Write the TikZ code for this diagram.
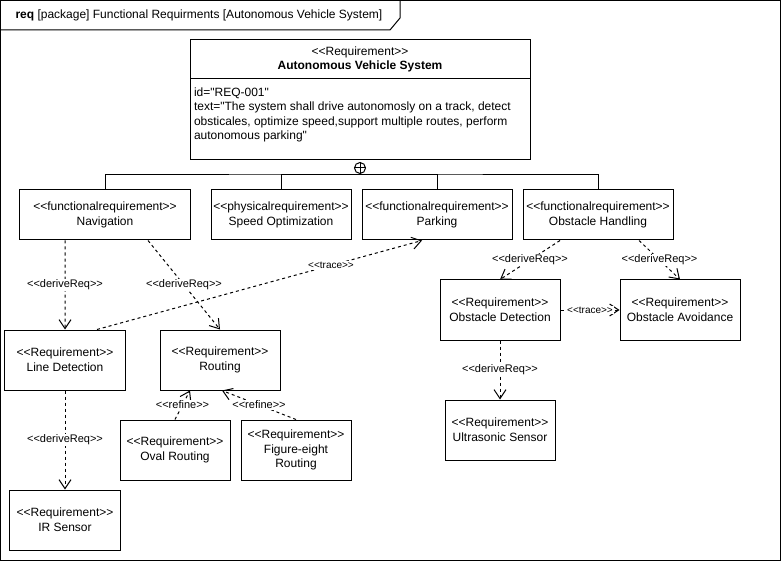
\documentclass[tikz,border=0pt]{standalone}
\usepackage{fontspec}
\setmainfont{Liberation Sans}[Ligatures=TeXOff]
\usetikzlibrary{positioning, arrows.meta}

\begin{document}
\begin{tikzpicture}[x=1bp, y=-1bp, node distance=10bp, line width=1bp, font=\fontsize{12bp}{14.6bp}\selectfont]
	\tikzstyle{req}=[draw, align=center, inner sep=0pt, minimum width=120bp, minimum height=60bp]
	\tikzstyle{freq}=[req, minimum height=50bp]
	\tikzstyle{every edge}=[draw, ->, >={Straight Barb[length=9bp,width=12bp]}, dash pattern=on 3bp off 3bp]
	\tikzstyle{rel}=[fill=white, inner sep=1bp, font=\fontsize{11bp}{13bp}\selectfont]
	\tikzstyle{trc}=[rel, font=\fontsize{10bp}{12bp}\selectfont]

	\useasboundingbox (0,0) rectangle (781,561);

	% frame
	\draw (0.5,0.5) rectangle (780.5,560.5);
	\draw (0.5,30) -- (390,30) -- (400,18) -- (400,0.5);
	\node[anchor=west, inner sep=0pt] (title) at (15,15) {\textbf{req} [package] Functional Requirments [Autonomous Vehicle System]};

	% top requirement
	\node[req, minimum width=340bp, minimum height=39bp] (avs) at (360,59.5) {<<Requirement>>\\\textbf{Autonomous Vehicle System}};
	\node[req, minimum width=340bp, minimum height=81bp] (avsbody) at (360,119.5) {};
	\node[anchor=north west, align=left, inner xsep=4bp, inner ysep=8.5bp] (avstext) at (avsbody.north west) {id="REQ-001"\\text="The system shall drive autonomosly on a track, detect\\obsticales, optimize speed,support multiple routes, perform\\autonomous parking"};
	\node[circle, draw, inner sep=0pt, minimum size=11bp] (cont) at (360,168) {};
	\draw (cont.north) -- (cont.south) (cont.west) -- (cont.east);

	% second row
	\node[freq, minimum width=170bp] (nav) at (105,215) {<<functionalrequirement>>\\Navigation};
	\node[freq, minimum width=140bp, right=20bp of nav] (spd) {<<physicalrequirement>>\\Speed Optimization};
	\node[freq, minimum width=150bp, right=of spd] (park) {<<functionalrequirement>>\\Parking};
	\node[freq, minimum width=150bp, right=of park] (obh) {<<functionalrequirement>>\\Obstacle Handling};

	\coordinate (bar) at (360,175);
	\draw (cont.south) -- (bar) (nav.north) |- (bar) -| (obh.north)
		(spd.north) |- (bar) (park.north) |- (bar);

	% third row
	\node[req] (ld) at (65,360) {<<Requirement>>\\Line Detection};
	\node[req] (rout) at (220,360) {<<Requirement>>\\Routing};
	\node[req] (od) at (500,310) {<<Requirement>>\\Obstacle Detection};
	\node[req] (oa) at (680,310) {<<Requirement>>\\Obstacle Avoidance};

	% fourth row
	\node[req, minimum width=110bp] (oval) at (175,450) {<<Requirement>>\\Oval Routing};
	\node[req, minimum width=110bp, right=of oval] (fig) {<<Requirement>>\\Figure-eight\\Routing};
	\node[req, minimum width=110bp] (ir) at (65,520) {<<Requirement>>\\IR Sensor};
	\node[req, minimum width=110bp] (us) at (500,430) {<<Requirement>>\\Ultrasonic Sensor};

	% relations
	\draw ([xshift=-40bp]nav.south) edge node[rel] {<<deriveReq>>} (ld.north)
		([xshift=43bp]nav.south) edge node[rel] {<<deriveReq>>} (rout.north);
	\draw ([xshift=32bp]ld.north) edge node[trc, pos=0.72] {<<trace>>} ([xshift=-15bp]park.south);
	\draw (ld.south) edge node[rel] {<<deriveReq>>} (ir.north);
	\draw ([xshift=-38bp]obh.south) edge node[rel] {<<deriveReq>>} (od.north)
		([xshift=41bp]obh.south) edge node[rel] {<<deriveReq>>} (oa.north);
	\draw (od.east) edge node[trc] {<<trace>>} (oa.west);
	\draw (od.south) edge node[rel] {<<deriveReq>>} (us.north);
	\draw (oval.north) edge node[rel] {<<refine>>} ([xshift=-30bp]rout.south);
	\draw (fig.north) edge node[rel] {<<refine>>} ([xshift=2bp]rout.south);
\end{tikzpicture}
\end{document}
